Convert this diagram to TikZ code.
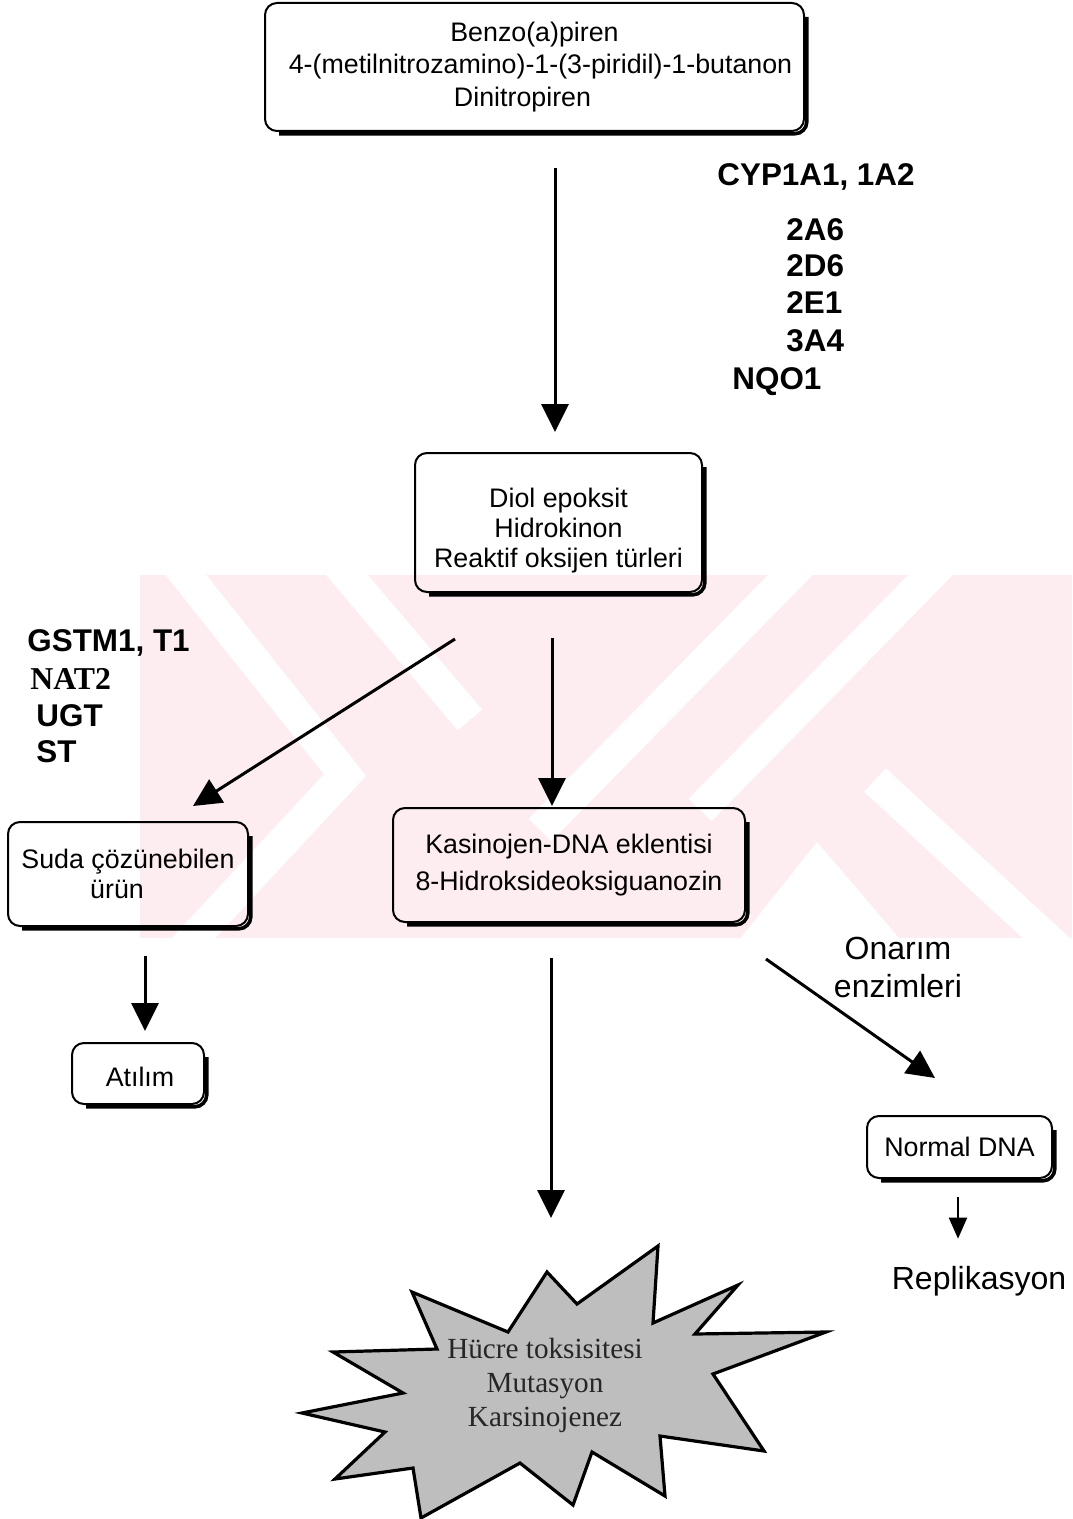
\documentclass[tikz,border=0pt]{standalone}
\usepackage{fontspec}
\setmainfont{Liberation Sans}
\newfontfamily\serifface{Liberation Serif}
\usetikzlibrary{arrows.meta}

\definecolor{wmpink}{RGB}{253,237,240}
\definecolor{burstgray}{RGB}{190,190,190}

\newcommand\boxfont{\fontsize{13.4}{15}\selectfont}
\newcommand\enzfont{\fontsize{15.7}{18}\selectfont\bfseries}
\newcommand\boxshadow[1]{%
  \draw[shadowline] ([shift={(1.4pt,-7pt)}]#1.north east)
    -- ([shift={(1.4pt,-1.4pt)}]#1.south east)
    -- ([shift={(7pt,-1.4pt)}]#1.south west);}

\tikzset{
  flowbox/.style={draw, line width=1pt, rounded corners=6pt, outer sep=0pt,
    inner sep=0pt, align=center, font=\boxfont},
  boxtext/.style={inner sep=0pt, align=center, font=\boxfont},
  shadowline/.style={line width=1.8pt, rounded corners=6pt},
  bigarrow/.style={line width=1.5pt, -{Triangle[length=14pt,width=13.5pt]}},
  smallarrow/.style={line width=1pt, -{Triangle[length=10.5pt,width=9pt]}},
  enz/.style={font=\enzfont, inner sep=0pt, anchor=base west},
  plainlabel/.style={font=\fontsize{16}{19}\selectfont, inner sep=0pt, align=center},
}

\begin{document}
\begin{tikzpicture}[x=0.5pt,y=-0.5pt]
\useasboundingbox (0,0) rectangle (1072,1519);

% faint background emblem
\begin{scope}
  \clip (140,575) rectangle (1072,938);
  \fill[wmpink] (140,575) rectangle (1072,938);
  \draw[white, line width=16pt] (170,555) -- (345,775) -- (150,985);
  \draw[white, line width=16pt] (330,555) -- (470,720);
  \draw[white, line width=16pt] (810,555) -- (540,830);
  \draw[white, line width=16pt] (950,555) -- (700,810);
  \draw[white, line width=16pt] (875,780) -- (1070,960);
  \fill[white] (817,842) -- (905,945) -- (735,945) -- cycle;
\end{scope}

% boxes
\node[flowbox, minimum width=269.5pt, minimum height=64pt, font=\fontsize{13.4}{16.3}\selectfont]
  (src) at (534.5,67) {Benzo(a)piren\\\hspace*{6pt}4-(metilnitrozamino)-1-(3-piridil)-1-butanon\\Dinitropiren\hspace*{12pt}};
\boxshadow{src}

\node[flowbox, minimum width=143.5pt, minimum height=69.5pt] (met) at (558.5,522.5) {};
\node[boxtext] (mettext) at ([yshift=-4pt]met.center) {Diol epoksit\\Hidrokinon\\Reaktif oksijen türleri};
\boxshadow{met}

\node[flowbox, minimum width=120pt, minimum height=52pt]
  (sol) at (128,874) {Suda çözünebilen\\ürün\hspace*{11pt}};
\boxshadow{sol}

\node[flowbox, minimum width=66pt, minimum height=30.5pt] (exc) at (138,1073.5) {};
\node[boxtext] (exctext) at ([shift={(1pt,-1.5pt)}]exc.center) {Atılım};
\boxshadow{exc}

\node[flowbox, minimum width=176pt, minimum height=57pt, font=\fontsize{13.4}{18.5}\selectfont]
  (add) at (569,865) {Kasinojen-DNA eklentisi\\8-Hidroksideoksiguanozin};
\boxshadow{add}

\node[flowbox, minimum width=92.5pt, minimum height=31pt]
  (ndna) at (959.5,1147) {Normal DNA};
\boxshadow{ndna}

% starburst outcome
\draw[fill=burstgray, line width=1.6pt, line join=miter]
  (412,1292) -- (508,1332) -- (547,1272) -- (577,1304) -- (658,1246)
  -- (653,1323) -- (738,1285) -- (695,1334) -- (826,1332) -- (713,1374)
  -- (764,1451) -- (660,1436) -- (665,1496) -- (592,1452) -- (573,1505)
  -- (520,1463) -- (421,1518) -- (413,1468) -- (335,1479) -- (385,1432)
  -- (302,1413) -- (403,1393) -- (333,1352) -- (437,1349) -- cycle;
\node[font=\serifface\fontsize{14.6}{17}\selectfont, text=black!85, align=center, inner sep=0pt]
  (burst) at (545,1385) {Hücre toksisitesi\\Mutasyon\\Karsinojenez};

% enzyme labels
\node[enz] (cyp)  at (717,186) {CYP1A1, 1A2};
\node[enz] (e2a6) at (786,241) {2A6};
\node[enz] (e2d6) at (786,277) {2D6};
\node[enz] (e2e1) at (786,314) {2E1};
\node[enz] (e3a4) at (786,351) {3A4};
\node[enz] (nqo)  at (732,389) {NQO1};

\node[enz] (gst)  at (27,651) {GSTM1, T1};
\node[enz, font=\serifface\fontsize{15.9}{18}\selectfont\bfseries] (nat) at (30,689.5) {NAT2};
\node[enz] (ugt)  at (36,726) {UGT};
\node[enz] (st)   at (36,762) {ST};

\node[plainlabel] (rep) at (898,967) {Onarım\\enzimleri};
\node[plainlabel] (repl) at (979,1281) {Replikasyon};

% connectors
\draw[bigarrow] ([shift={(10.25pt,-18.5pt)}]src.south) -- ([shift={(-1.75pt,10.5pt)}]met.north);
\draw[bigarrow] ([shift={(-51.75pt,-23.5pt)}]met.south) -- ([shift={(32.5pt,8pt)}]sol.north);
\draw[bigarrow] ([shift={(-3.25pt,-23pt)}]met.south) -- ([shift={(-8.5pt,1pt)}]add.north);
\draw[bigarrow] ([shift={(8.5pt,-15pt)}]sol.south) -- ([shift={(3.5pt,6pt)}]exc.north);
\draw[bigarrow] ([shift={(-9pt,-18pt)}]add.south) -- ([shift={(3pt,83.5pt)}]burst.center);
\draw[bigarrow] ([shift={(10.5pt,-18.5pt)}]add.south east) -- ([shift={(-12.25pt,19pt)}]ndna.north);
\draw[smallarrow] ([shift={(-0.75pt,-9.5pt)}]ndna.south) -- ([shift={(-10.5pt,13.5pt)}]repl.north);
\end{tikzpicture}
\end{document}
